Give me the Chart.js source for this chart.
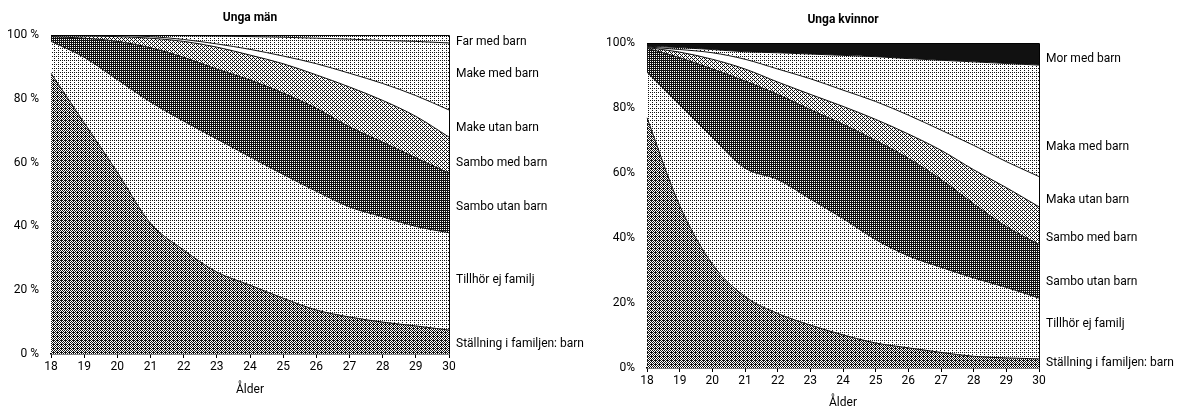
<!DOCTYPE html>
<html>
<head>
<meta charset="utf-8">
<script src="https://cdn.jsdelivr.net/npm/chart.js@4.4.1/dist/chart.umd.min.js"></script>
<style>
  body { margin: 0; background: #fff; width: 1184px; height: 410px; overflow: hidden; position: relative; }
  canvas { position: absolute; top: 0; }
</style>
</head>
<body>
<canvas id="men" width="590" height="410" style="left:0"></canvas>
<canvas id="women" width="594" height="410" style="left:590px"></canvas>
<script>
// Data (andelar i procent, per ålder)

const ages = ["18", "19", "20", "21", "22", "23", "24", "25", "26", "27", "28", "29", "30"];

const menNames = ["Ställning i familjen: barn", "Tillhör ej familj", "Sambo utan barn", "Sambo med barn", "Make utan barn", "Make med barn", "Far med barn"];
const menBarn = [88, 72.5, 57, 41, 32.6, 25.7, 21.6, 17.5, 13.8, 11.6, 10, 8.8, 7.5];
const menTillhor = [10, 20.5, 29, 38, 40.4, 41.7, 40.2, 38.8, 37.2, 34.5, 33, 31.2, 30.5];
const menSamboUtan = [1.5, 6, 12, 17, 20, 21.9, 24.1, 25.5, 26, 25.1, 23.4, 21.5, 18.7];
const menSamboMed = [0.3, 0.7, 1.5, 3, 5, 6.9, 7.8, 9.2, 10.5, 12.5, 13.1, 13, 11.3];
const menMakeUtan = [0.1, 0.15, 0.3, 0.5, 0.6, 1, 1.8, 2.4, 3.5, 4.3, 5.3, 6.5, 8.5];
const menMakeMed = [0.1, 0.15, 0.2, 0.4, 1.2, 2.5, 4, 5.9, 8, 10.7, 13.5, 17, 21];
const menFar = [0, 0, 0, 0.1, 0.2, 0.3, 0.5, 0.7, 1, 1.3, 1.7, 2, 2.5];

const womenNames = ["Ställning i familjen: barn", "Tillhör ej familj", "Sambo utan barn", "Sambo med barn", "Maka utan barn", "Maka med barn", "Mor med barn"];
const womenBarn = [77, 50, 32, 22, 16.8, 13.2, 10.2, 7.7, 6.2, 4.8, 3.6, 3.1, 2.8];
const womenTillhor = [14, 31, 39, 39.5, 41.2, 38.8, 35.8, 31.8, 28.3, 26.2, 24.1, 21.7, 18.7];
const womenSamboUtan = [7.4, 14.5, 21, 26.8, 26.2, 27.5, 29, 30.5, 30, 27, 22.8, 18.7, 16.5];
const womenSamboMed = [0.2, 1.7, 3, 3.7, 3.8, 4.7, 5.5, 6.5, 7.5, 9, 10.5, 12, 11.6];
const womenMakaUtan = [0.2, 0.8, 2, 3, 4, 4.8, 5, 5.5, 5.8, 6.2, 7.5, 8, 9.3];
const womenMakaMed = [0.2, 0.6, 1, 2.3, 5, 7.6, 10.7, 13.8, 17.4, 21.5, 25.7, 30.2, 34.3];
const womenMor = [1, 1.4, 2, 2.7, 3, 3.4, 3.8, 4.2, 4.8, 5.3, 5.8, 6.3, 6.8];

// Look

const FONT = "Roboto, 'Liberation Sans', sans-serif";
Chart.defaults.font.family = FONT;
Chart.defaults.font.size = 12;
Chart.defaults.color = "#000";

// halftone fill, level 0..16 of dark dots
const bayer = [[0, 8, 2, 10], [12, 4, 14, 6], [3, 11, 1, 9], [15, 7, 13, 5]];
const halftone = (ctx, level) => {
  const c = document.createElement("canvas");
  c.width = 4;
  c.height = 4;
  const g = c.getContext("2d");
  g.fillStyle = "#fff";
  g.fillRect(0, 0, 4, 4);
  g.fillStyle = "#111";
  for (let i = 0; i < 4; i++)
    for (let j = 0; j < 4; j++)
      if (bayer[i][j] < level) g.fillRect(j, i, 1, 1);
  return ctx.createPattern(c, "repeat");
};

const shades = [9, 3, 12, 6, 0, 3, 3];
const womenShades = [9, 3, 12, 6, 0, 3, 16];

// Text around the plot

const textPlugin = {
  id: "texts",
  afterDraw(chart, args, opts) {
    const { ctx, chartArea } = chart;
    const y = chart.scales.y;
    ctx.save();
    ctx.strokeStyle = "#000";
    ctx.lineWidth = 1;
    ctx.beginPath();
    ctx.moveTo(chartArea.left, chartArea.top + 0.5);
    ctx.lineTo(chartArea.right + 0.5, chartArea.top + 0.5);
    ctx.lineTo(chartArea.right + 0.5, chartArea.bottom);
    ctx.stroke();

    ctx.fillStyle = "#000";
    ctx.textAlign = "center";
    ctx.textBaseline = "middle";
    ctx.font = `bold 12px ${FONT}`;
    const mid = (chartArea.left + chartArea.right) / 2;
    ctx.fillText(opts.title, mid, chartArea.top - opts.titleGap);
    ctx.font = `12px ${FONT}`;
    ctx.fillText("Ålder", mid, chartArea.bottom + opts.xTitleGap);

    ctx.textAlign = "left";
    opts.names.forEach((name, i) => {
      ctx.fillText(name, chartArea.right + 7, y.getPixelForValue(opts.labelAt[i]));
    });
    ctx.restore();
  },
};

const makeChart = (id, names, series, levels, o) => {
  const canvas = document.getElementById(id);
  const ctx = canvas.getContext("2d");
  const datasets = series.map((data, i) => ({
    label: names[i],
    data,
    fill: i === 0 ? "origin" : "-1",
    backgroundColor: halftone(ctx, levels[i]),
    borderColor: "#111",
    borderWidth: 1,
    pointRadius: 0,
    cubicInterpolationMode: "monotone",
  }));

  return new Chart(canvas, {
    type: "line",
    data: { labels: ages, datasets },
    options: {
      responsive: false,
      animation: false,
      layout: { padding: { top: o.top, right: o.right, left: 0, bottom: 0 } },
      plugins: {
        legend: { display: false },
        tooltip: { enabled: false },
        texts: { title: o.title, names, labelAt: o.labelAt, titleGap: o.titleGap, xTitleGap: o.xTitleGap },
      },
      scales: {
        x: {
          offset: false,
          grid: { drawOnChartArea: false, drawTicks: true, tickLength: 4, color: "#000" },
          border: { display: true, color: "#000", width: 1.5 },
          ticks: { padding: 2, maxRotation: 0, autoSkip: false, font: { size: 12 } },
          afterFit: (s) => { s.height = o.xHeight; },
        },
        y: {
          stacked: true,
          min: 0,
          max: 100,
          grid: { display: false },
          border: { display: false },
          ticks: { stepSize: 20, padding: 4, callback: (v) => v + o.unit, font: { size: 12 } },
          afterFit: (s) => { s.width = o.yWidth; },
        },
      },
    },
    plugins: [textPlugin],
  });
};

makeChart(
  "men",
  menNames,
  [menBarn, menTillhor, menSamboUtan, menSamboMed, menMakeUtan, menMakeMed, menFar],
  shades,
  { title: "Unga män", unit: " %", top: 35, right: 141, yWidth: 51, xHeight: 56, titleGap: 17, xTitleGap: 36,
    labelAt: [3.1, 23.2, 46.1, 59.9, 70.8, 87.8, 97.8] }
);

makeChart(
  "women",
  womenNames,
  [womenBarn, womenTillhor, womenSamboUtan, womenSamboMed, womenMakaUtan, womenMakaMed, womenMor],
  womenShades,
  { title: "Unga kvinnor", unit: "%", top: 43, right: 145, yWidth: 57, xHeight: 42, titleGap: 23, xTitleGap: 35,
    labelAt: [1.5, 13.5, 26.5, 40, 51.7, 68, 95.1] }
);
</script>
</body>
</html>
